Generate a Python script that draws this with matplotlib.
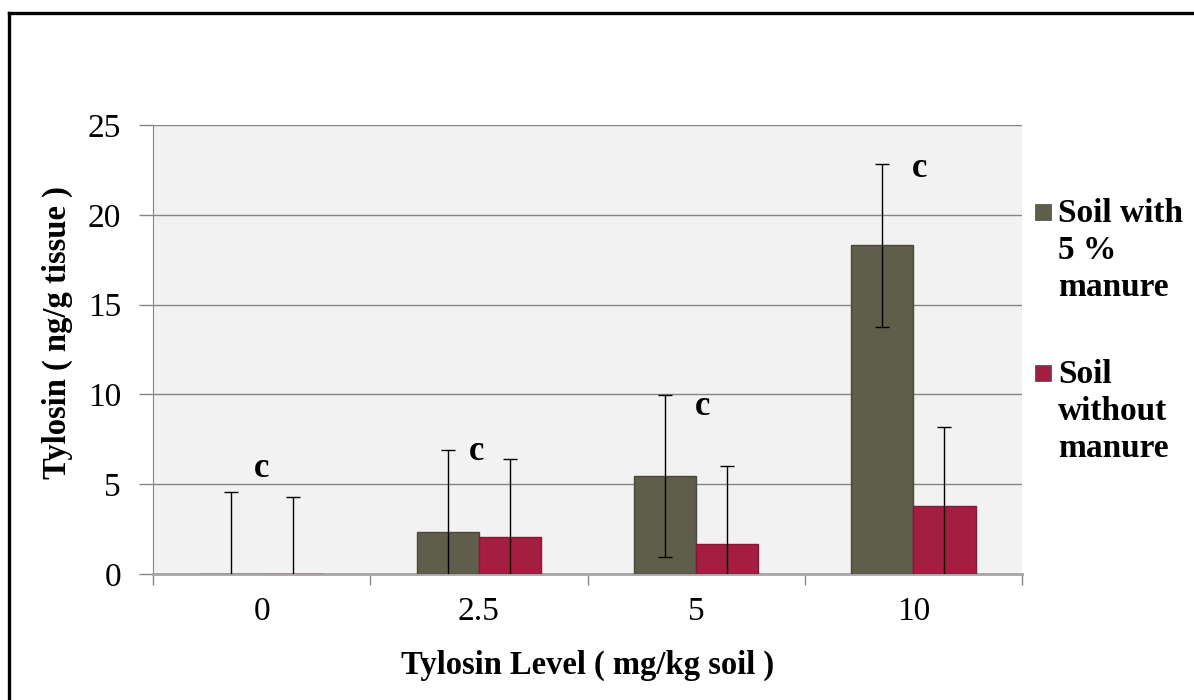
import matplotlib
matplotlib.use("Agg")
import matplotlib.pyplot as plt
import numpy as np
from matplotlib.patches import Rectangle
from matplotlib.lines import Line2D

# data
levels = ['0', '2.5', '5', '10']
with_manure = [0.0, 2.35, 5.45, 18.3]
with_manure_err = [4.55, 4.55, 4.53, 4.55]
without_manure = [0.0, 2.05, 1.65, 3.8]
without_manure_err = [4.3, 4.35, 4.35, 4.4]
letters = ['c', 'c', 'c', 'c']
letter_y = [5.9, 6.8, 9.35, 22.6]
letter_dx = [0.0, -0.01, 0.03, 0.03]
series_names = ['Soil with\n5 %\nmanure', 'Soil\nwithout\nmanure']

gray = '#5f5e4b'
red = '#a31e40'
serif = ['Liberation Serif', 'DejaVu Serif']

plt.rcParams['font.family'] = serif

fig = plt.figure(figsize=(11.94, 7.0), dpi=100)
ax = fig.add_axes([153/1194, 1-574/700, (1022-153)/1194, (574-125)/700])
ax.set_facecolor('#f2f2f2')

x = np.arange(len(levels))
w = 0.286
ax.bar(x - w/2, with_manure, w, color=gray, edgecolor='#4a493a', linewidth=1, zorder=3)
ax.bar(x + w/2, without_manure, w, color=red, edgecolor='#8a1534', linewidth=1, zorder=3)
ax.errorbar(x - w/2, with_manure, yerr=with_manure_err, fmt='none', ecolor='black',
            elinewidth=1, capsize=5, capthick=1, zorder=4)
ax.errorbar(x + w/2, without_manure, yerr=without_manure_err, fmt='none', ecolor='black',
            elinewidth=1, capsize=5, capthick=1, zorder=4)

for i, (t, yy, dx) in enumerate(zip(letters, letter_y, letter_dx)):
    ax.text(i + dx, yy, t, ha='center', va='center', fontsize=25, fontweight='bold', zorder=5)

ax.set_xlim(-0.5, len(levels) - 0.5)
ax.set_ylim(0, 25)
ax.set_yticks(np.arange(0, 26, 5))
ax.yaxis.grid(True, color='#868686', linewidth=1)
ax.set_axisbelow(True)
ax.tick_params(axis='y', labelsize=24, length=10, width=1, color='#868686', pad=13)

ax.set_xticks(np.arange(-0.5, len(levels), 1.0))
ax.set_xticklabels([])
ax.set_xticks(x, minor=True)
ax.set_xticklabels(levels, minor=True)
ax.tick_params(axis='x', which='major', length=8, width=1, color='#868686')
ax.tick_params(axis='x', which='minor', length=0, labelsize=24, pad=16)

for s in ['top', 'right']:
    ax.spines[s].set_visible(False)
ax.spines['left'].set_color('#868686')
ax.spines['bottom'].set_color('#a6a6a6')
ax.spines['bottom'].set_linewidth(2)

fig.text(588/1194, 1-665/700, 'Tylosin Level ( mg/kg soil )', ha='center', va='center',
         fontsize=23.5, fontweight='bold')
fig.text(57/1194, 1-333/700, 'Tylosin ( ng/g tissue )', ha='center', va='center',
         rotation=90, fontsize=23.5, fontweight='bold')

# legend drawn by hand so the square sits on the first line
leg_y = [212, 373]
for name, col, yy in zip(series_names, [gray, red], leg_y):
    fig.add_artist(Rectangle((1035/1194, 1-(yy+8)/700), 16/1194, 16/700,
                             transform=fig.transFigure, facecolor=col, edgecolor='#555555', linewidth=0.6))
    fig.text(1058/1194, 1-(yy-14)/700, name, ha='left', va='top', fontsize=24,
             fontweight='bold', linespacing=1.24)

# partial frame (left and top)
fig.add_artist(Line2D([9/1194, 9/1194], [0, 1-13/700], transform=fig.transFigure, color='black', linewidth=2.4))
fig.add_artist(Line2D([9/1194, 1], [1-13/700, 1-13/700], transform=fig.transFigure, color='black', linewidth=2.4))

fig.savefig('out.png', dpi=100)
